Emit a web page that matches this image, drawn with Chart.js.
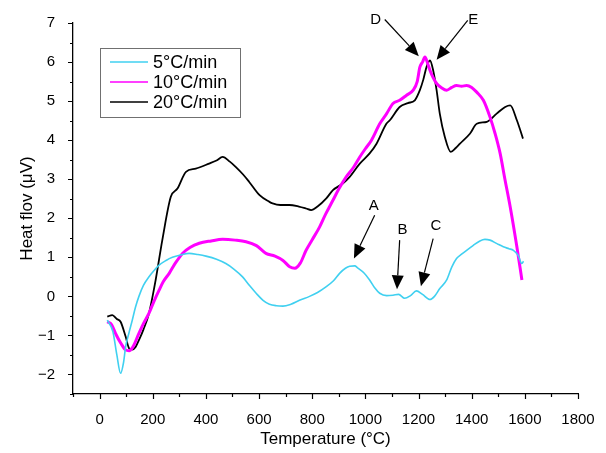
<!DOCTYPE html>
<html>
<head>
<meta charset="utf-8">
<script src="https://cdn.jsdelivr.net/npm/chart.js@4.4.1/dist/chart.umd.min.js"></script>
<style>
  html, body { margin: 0; padding: 0; background: #fff; }
</style>
</head>
<body>
<canvas id="grafico" width="606" height="453"></canvas>
<script>
// ---- datos ----
const seriesNombres = ['5\u00B0C/min', '10\u00B0C/min', '20\u00B0C/min'];
const seriesColores = ['#40d0f0', '#ff00ff', '#000000'];

const temp5 = [29, 50, 65, 79, 90, 98, 110, 123, 135, 148, 165, 186, 205, 224, 250, 274, 305, 337, 370, 400,
  440, 475, 505, 538, 565, 589, 615, 639, 665, 690, 720, 752, 790, 820, 853, 880, 903, 925, 941, 960,
  971, 995, 1016, 1035, 1054, 1080, 1104, 1125, 1148, 1170, 1192, 1215, 1243, 1260, 1280, 1306, 1325, 1343, 1362, 1381,
  1405, 1431, 1450, 1469, 1495, 1519, 1540, 1557, 1575, 1589, 1595];
const flujo5 = [-0.61, -0.9, -1.5, -1.97, -1.7, -1.29, -0.95, -0.61, -0.28, 0, 0.28, 0.5, 0.66, 0.8, 0.92, 1.0, 1.06, 1.1, 1.07, 1.03,
  0.95, 0.84, 0.7, 0.5, 0.27, 0.08, -0.1, -0.2, -0.24, -0.25, -0.2, -0.1, 0, 0.1, 0.25, 0.4, 0.59, 0.72, 0.77, 0.78,
  0.73, 0.6, 0.42, 0.22, 0.08, 0.02, 0.03, 0.05, -0.05, 0.02, 0.14, 0.05, -0.08, 0.0, 0.2, 0.42, 0.75, 0.97, 1.08, 1.18,
  1.3, 1.42, 1.46, 1.44, 1.35, 1.27, 1.22, 1.18, 1.05, 0.84, 0.9];

const temp10 = [29, 45, 60, 80, 98, 111, 125, 148, 165, 186, 205, 224, 240, 262, 285, 312, 340, 375, 420, 463,
  510, 551, 590, 626, 660, 690, 715, 735, 755, 777, 800, 828, 850, 878, 900, 928, 955, 979, 1000, 1023,
  1054, 1080, 1104, 1129, 1155, 1180, 1195, 1205, 1215, 1224, 1235, 1243, 1255, 1268, 1285, 1306, 1325, 1343, 1362, 1381,
  1400, 1419, 1444, 1469, 1488, 1507, 1525, 1545, 1570, 1589];
const flujo10 = [-0.65, -0.72, -0.95, -1.2, -1.37, -1.39, -1.3, -0.95, -0.7, -0.43, -0.12, 0.16, 0.38, 0.59, 0.85, 1.1, 1.25, 1.36, 1.42, 1.46,
  1.44, 1.4, 1.3, 1.1, 1.03, 0.92, 0.76, 0.72, 0.85, 1.18, 1.45, 1.78, 2.1, 2.46, 2.75, 3.06, 3.3, 3.57, 3.78, 4.0,
  4.42, 4.68, 4.94, 5.02, 5.15, 5.28, 5.5, 5.87, 6.0, 6.13, 5.95, 5.79, 5.6, 5.45, 5.35, 5.28, 5.35, 5.4, 5.38, 5.4,
  5.35, 5.23, 5.02, 4.59, 4.17, 3.66, 3.0, 2.29, 1.27, 0.42];

const temp20 = [29, 48, 65, 79, 98, 111, 123, 135, 148, 165, 186, 211, 236, 268, 293, 325, 362, 412, 440, 463,
  490, 513, 540, 563, 602, 639, 651, 680, 714, 750, 777, 796, 820, 853, 878, 915, 941, 979, 1016, 1042,
  1079, 1092, 1129, 1160, 1186, 1205, 1218, 1230, 1243, 1255, 1268, 1280, 1299, 1321, 1340, 1356, 1394, 1419, 1457, 1494,
  1526, 1545, 1570, 1593];
const flujo20 = [-0.52, -0.48, -0.58, -0.65, -1.03, -1.33, -1.36, -1.3, -1.12, -0.85, -0.43, 0.42, 1.44, 2.55, 2.76, 3.19, 3.27, 3.4, 3.48, 3.57,
  3.45, 3.31, 3.12, 2.93, 2.59, 2.42, 2.38, 2.34, 2.34, 2.3, 2.25, 2.21, 2.3, 2.51, 2.72, 2.89, 3.06, 3.4, 3.66, 3.91,
  4.42, 4.51, 4.85, 4.95, 5.02, 5.28, 5.55, 5.87, 6.04, 5.79, 5.28, 4.68, 4.08, 3.7, 3.8, 3.91, 4.17, 4.42, 4.47, 4.68,
  4.85, 4.89, 4.51, 4.04];

// flechas: etiqueta, posicion de la letra, cola y punta (en unidades de datos)
const flechaLetras = ['A', 'B', 'C', 'D', 'E'];
const flechaTexto = [[1032, 2.32], [1140, 1.70], [1265, 1.80], [1039, 7.09], [1406, 7.09]];
const flechaCola = [[1035, 2.08], [1129, 1.44], [1255, 1.48], [1073, 7.09], [1385, 7.07]];
const flechaPunta = [[957, 0.97], [1119, 0.18], [1209, 0.26], [1201, 6.15], [1268, 6.06]];

const fuente = "'Liberation Sans', Arial, sans-serif";

function serie(ts, vs) {
  return ts.map((t, i) => ({ x: t, y: vs[i] }));
}

// marcas de los ejes (mayores largas, menores cortas)
const marcasEjes = {
  id: 'marcasEjes',
  afterDraw(chart) {
    const ctx = chart.ctx;
    const sx = chart.scales.x, sy = chart.scales.y;
    ctx.save();
    ctx.strokeStyle = '#000';
    ctx.lineWidth = 1.2;
    ctx.beginPath();
    sx.ticks.forEach(t => {
      const px = Math.round(sx.getPixelForValue(t.value)) + 0.5;
      const largo = (t.value % 200 === 0) ? 5 : 3;
      ctx.moveTo(px, sx.top);
      ctx.lineTo(px, sx.top + largo);
    });
    sy.ticks.forEach(t => {
      const py = Math.round(sy.getPixelForValue(t.value)) + 0.5;
      const largo = Number.isInteger(t.value) ? 5 : 3;
      ctx.moveTo(sy.right, py);
      ctx.lineTo(sy.right - largo, py);
    });
    ctx.stroke();
    ctx.restore();
  }
};

// leyenda con recuadro
const leyenda = {
  id: 'leyenda',
  afterDraw(chart) {
    const ctx = chart.ctx;
    ctx.save();
    ctx.strokeStyle = '#707070';
    ctx.lineWidth = 1;
    ctx.strokeRect(100.5, 48.5, 140, 69);
    ctx.font = '18px ' + fuente;
    ctx.textBaseline = 'middle';
    ctx.fillStyle = '#000';
    chart.data.datasets.forEach((ds, i) => {
      const y = 62 + i * 20;
      ctx.strokeStyle = ds.borderColor;
      ctx.lineWidth = 1.5;
      ctx.beginPath();
      ctx.moveTo(110, y);
      ctx.lineTo(148, y);
      ctx.stroke();
      ctx.fillText(ds.label, 153, y + 1);
    });
    ctx.restore();
  }
};

// flechas con letras
const flechas = {
  id: 'flechas',
  afterDraw(chart) {
    const ctx = chart.ctx;
    const sx = chart.scales.x, sy = chart.scales.y;
    ctx.save();
    ctx.fillStyle = '#000';
    ctx.strokeStyle = '#000';
    ctx.lineWidth = 1.2;
    ctx.font = '15px ' + fuente;
    ctx.textAlign = 'center';
    ctx.textBaseline = 'middle';
    flechaLetras.forEach((letra, i) => {
      const tx = sx.getPixelForValue(flechaTexto[i][0]);
      const ty = sy.getPixelForValue(flechaTexto[i][1]);
      ctx.fillText(letra, tx, ty);
      const x0 = sx.getPixelForValue(flechaCola[i][0]);
      const y0 = sy.getPixelForValue(flechaCola[i][1]);
      const x1 = sx.getPixelForValue(flechaPunta[i][0]);
      const y1 = sy.getPixelForValue(flechaPunta[i][1]);
      const ang = Math.atan2(y1 - y0, x1 - x0);
      const cabeza = 14, ancho = 6;
      const bx = x1 - cabeza * Math.cos(ang), by = y1 - cabeza * Math.sin(ang);
      ctx.beginPath();
      ctx.moveTo(x0, y0);
      ctx.lineTo(bx, by);
      ctx.stroke();
      ctx.beginPath();
      ctx.moveTo(x1, y1);
      ctx.lineTo(bx + ancho * Math.sin(ang), by - ancho * Math.cos(ang));
      ctx.lineTo(bx - ancho * Math.sin(ang), by + ancho * Math.cos(ang));
      ctx.closePath();
      ctx.fill();
    });
    ctx.restore();
  }
};

const ctx = document.getElementById('grafico');

new Chart(ctx, {
  type: 'line',
  data: {
    datasets: [
      { label: seriesNombres[0], data: serie(temp5, flujo5), borderColor: seriesColores[0], borderWidth: 1.6 },
      { label: seriesNombres[1], data: serie(temp10, flujo10), borderColor: seriesColores[1], borderWidth: 3 },
      { label: seriesNombres[2], data: serie(temp20, flujo20), borderColor: seriesColores[2], borderWidth: 1.8 }
    ]
  },
  options: {
    responsive: false,
    animation: false,
    layout: { padding: { top: 23, right: 28, bottom: 0, left: 0 } },
    elements: {
      point: { radius: 0 },
      line: { cubicInterpolationMode: 'monotone', fill: false }
    },
    scales: {
      x: {
        type: 'linear',
        min: -100,
        max: 1800,
        afterFit: s => { s.height = 59; },
        grid: { display: false },
        border: { display: true, color: '#000', width: 1.3 },
        ticks: {
          stepSize: 100,
          autoSkip: false,
          maxRotation: 0,
          padding: 9,
          color: '#000',
          font: { family: fuente, size: 15 },
          callback: v => (v >= 0 && v % 200 === 0) ? String(v) : ''
        },
        title: {
          display: true,
          text: 'Temperature (\u00B0C)',
          color: '#000',
          font: { family: fuente, size: 17 },
          padding: { top: 0, bottom: 3 }
        }
      },
      y: {
        min: -2.5,
        max: 7,
        afterFit: s => { s.width = 73; },
        grid: { display: false },
        border: { display: true, color: '#000', width: 1.3 },
        ticks: {
          stepSize: 0.5,
          autoSkip: false,
          padding: 10,
          color: '#000',
          font: { family: fuente, size: 15 },
          callback: v => Number.isInteger(v) ? String(v).replace('-', '\u2212') : ''
        },
        title: {
          display: true,
          text: 'Heat flov (\u03BCV)',
          color: '#000',
          font: { family: fuente, size: 17 },
          padding: { top: 17, bottom: 0 }
        }
      }
    },
    plugins: {
      legend: { display: false },
      tooltip: { enabled: false }
    }
  },
  plugins: [marcasEjes, leyenda, flechas]
});
</script>
</body>
</html>
